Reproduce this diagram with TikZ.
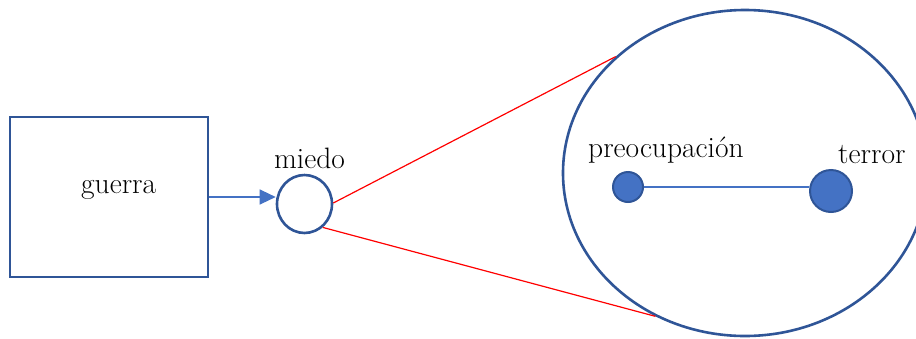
\documentclass[tikz,border=0pt]{standalone}
\usetikzlibrary{
	arrows.meta,
	shapes.geometric
}
\definecolor{DarkBlue}{RGB}{47,85,151}
\definecolor{MidBlue}{RGB}{68,114,196}

\begin{document}
\begin{tikzpicture}[x=1pt, y=-1pt,
		borde/.style={draw=DarkBlue, line width=2.6pt, inner sep=0pt},
		punto/.style={circle, fill=MidBlue, draw=DarkBlue, line width=2pt, inner sep=0pt},
		rotulo/.style={inner sep=0pt, anchor=base west, font=\fontsize{29.5}{34}\selectfont},
		enlace/.style={MidBlue, line width=1.2pt}]
		\useasboundingbox (0,0) rectangle (916,338);
		
		% 矩形 guerra
		\node[borde, rectangle, minimum width=198, minimum height=160] (guerraBox) at (109,197) {};
		\node[rotulo] (guerra) at (81,193) {guerra};
		
		% 小圆 miedo
		\node[borde, ellipse, minimum width=55, minimum height=58] (miedo) at (304.5,204) {};
		\node[rotulo] (miedoText) at (274,168) {miedo};
		
		% 箭头
		\draw[enlace, -{Triangle[length=16pt, width=15pt]}] (guerraBox.east) -- (guerraBox.east -| miedo.west);
		
		% 放大的椭圆
		\node[borde, ellipse, minimum width=364, minimum height=326] (zoom) at (745,173) {};
		\draw[red, line width=1.2pt] (miedo.2) -- (zoom.138.7);
		\draw[red, line width=1.2pt] (miedo.-52) -- (zoom.238.4);
		
		% 两个点
		\node[punto, minimum size=30] (pre) at (628,187) {};
		\node[punto, minimum size=42] (ter) at (831,191) {};
		\draw[enlace] (pre.east) -- (pre.east -| ter.west);
		\node[rotulo] (preText) at (588,157) {preocupación};
		\node[rotulo] (terText) at (838,163) {terror};
	\end{tikzpicture}
\end{document}
